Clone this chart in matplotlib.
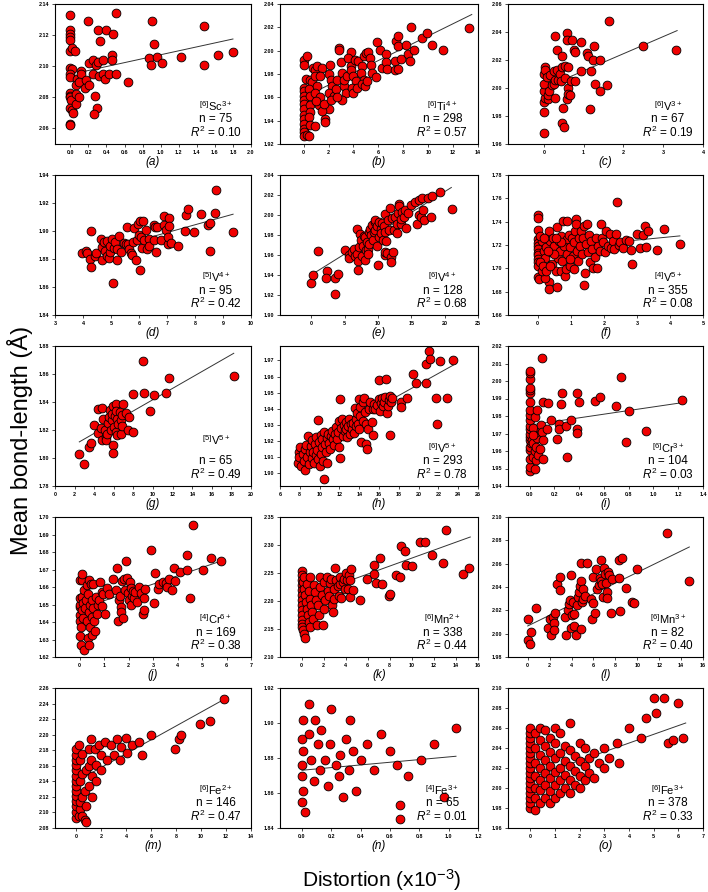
import numpy as np
import matplotlib
matplotlib.use("Agg")
import matplotlib.pyplot as plt

plt.rcParams['font.family'] = ['Liberation Sans', 'DejaVu Sans']
plt.rcParams['mathtext.fontset'] = 'custom'
plt.rcParams['mathtext.rm'] = 'Liberation Sans'
plt.rcParams['mathtext.it'] = 'Liberation Sans:italic'

# ---- data: (distortion x10^-3, mean bond length) ----
a_pts = [(0, 2.133), (0, 2.123), (0, 2.121), (0, 2.119), (0, 2.117), (0, 2.110), (0.02, 2.112), (0.05, 2.110),
         (0, 2.099), (0.02, 2.098), (0, 2.095), (0, 2.093), (0.07, 2.092), (0.06, 2.088), (0, 2.083), (0, 2.081),
         (0, 2.080), (0.01, 2.078), (0, 2.073), (0.02, 2.072), (0.03, 2.070), (0.06, 2.076), (0.06, 2.082),
         (0.1, 2.080), (0, 2.063), (0, 2.062), (0.12, 2.097), (0.12, 2.095), (0.1, 2.090), (0.17, 2.091),
         (0.16, 2.086), (0.21, 2.088), (0.2, 2.129), (0.21, 2.102), (0.25, 2.104), (0.28, 2.101), (0.31, 2.103),
         (0.31, 2.123), (0.33, 2.116), (0.25, 2.095), (0.32, 2.094), (0.36, 2.095), (0.38, 2.092), (0.27, 2.081),
         (0.3, 2.073), (0.26, 2.069), (0.36, 2.104), (0.39, 2.123), (0.43, 2.095), (0.47, 2.121), (0.46, 2.107),
         (0.46, 2.104), (0.5, 2.095), (0.5, 2.134), (0.64, 2.090), (0.87, 2.105), (0.89, 2.101), (0.9, 2.129),
         (0.93, 2.114), (0.96, 2.106), (1.01, 2.102), (1.23, 2.106), (1.48, 2.126), (1.48, 2.101), (1.63, 2.107),
         (1.8, 2.109)]
b_pts = [(0, 1.992), (0, 1.988), (0.3, 1.995), (0, 1.968), (0, 1.965), (0, 1.961), (0, 1.958), (0, 1.954),
         (0, 1.950), (0, 1.945), (0, 1.941), (0, 1.937), (0, 1.933), (0, 1.930), (0, 1.927), (0.3, 1.928),
         (0.4, 1.927), (0.2, 1.976), (0.5, 1.975), (0.7, 1.973), (0.4, 1.967), (0.5, 1.961), (0.5, 1.953),
         (0.5, 1.947), (0.4, 1.943), (0.5, 1.936), (0.9, 1.935), (0.75, 1.985), (0.95, 1.983), (1.1, 1.987),
         (1.5, 1.985), (0.95, 1.978), (1.3, 1.978), (1.1, 1.970), (0.95, 1.964), (1.35, 1.960), (1.2, 1.953),
         (1.0, 1.957), (1.7, 1.941), (1.7, 1.939), (2.0, 1.950), (1.5, 1.948), (1.6, 1.954), (2.1, 1.988),
         (2.0, 1.980), (2.2, 1.975), (2.3, 1.970), (2.0, 1.964), (2.4, 1.961), (2.2, 1.958), (2.6, 1.967),
         (2.7, 1.975), (2.8, 2.002), (2.8, 2.001), (3.0, 1.990), (3.1, 1.981), (3.2, 1.970), (3.4, 1.964),
         (3.1, 1.958), (2.7, 1.960), (3.2, 1.975), (3.5, 1.978), (3.8, 1.999), (3.6, 1.994), (3.8, 1.987),
         (3.8, 1.983), (4.0, 1.978), (4.2, 1.974), (3.9, 1.968), (4.0, 1.964), (4.3, 1.968), (4.1, 1.992),
         (4.4, 1.991), (4.7, 1.987), (4.6, 1.981), (4.85, 1.975), (4.7, 1.971), (4.9, 1.970), (5.1, 1.974),
         (4.85, 1.995), (5.0, 1.998), (5.2, 1.999), (5.3, 1.994), (5.4, 1.988), (5.5, 1.981), (5.8, 1.977),
         (5.9, 2.007), (6.1, 2.001), (6.3, 1.985), (6.6, 1.997), (6.6, 1.990), (6.7, 1.984), (7.3, 1.991),
         (7.4, 2.008), (7.6, 2.013), (7.6, 2.004), (7.3, 1.983), (7.55, 1.984), (7.8, 1.993), (8.2, 2.005),
         (8.4, 1.997), (8.5, 1.991), (8.6, 2.020), (8.9, 2.001), (9.5, 2.011), (9.9, 2.015), (10.3, 2.005),
         (11.2, 2.001), (13.3, 2.019)]
c_pts = [(0, 1.968), (0, 1.983), (0, 1.990), (0.02, 1.993), (0, 1.998), (0, 2.003), (0, 2.010), (0.03, 2.015),
         (0.03, 2.013), (0.07, 2.008), (0.1, 1.992), (0.1, 1.995), (0.12, 1.998), (0.15, 2.009), (0.2, 2.002),
         (0.25, 2.003), (0.28, 2.006), (0.27, 1.993), (0.25, 2.012), (0.33, 2.013), (0.29, 2.037), (0.33, 2.027),
         (0.35, 2.006), (0.4, 2.010), (0.42, 2.005), (0.46, 2.023), (0.46, 2.015), (0.48, 1.986), (0.46, 1.975),
         (0.5, 1.972), (0.52, 2.016), (0.52, 2.007), (0.58, 2.039), (0.57, 2.034), (0.58, 1.992), (0.6, 2.015),
         (0.62, 2.000), (0.62, 1.996), (0.65, 1.995), (0.68, 2.005), (0.71, 2.034), (0.75, 2.027), (0.78, 2.026),
         (0.79, 2.005), (0.93, 2.033), (0.93, 2.012), (1.08, 2.025), (1.11, 2.023), (1.17, 1.985), (1.19, 2.012),
         (1.23, 2.020), (1.25, 2.030), (1.29, 2.003), (1.4, 2.020), (1.42, 1.998), (1.58, 2.002), (1.64, 2.048),
         (2.48, 2.030), (3.33, 2.027)]
d_pts = [(3.96, 1.8845), (4.12, 1.886), (4.16, 1.884), (4.26, 1.880), (4.3, 1.874), (4.3, 1.900), (4.44, 1.882),
         (4.48, 1.884), (4.64, 1.8945), (4.68, 1.8885), (4.68, 1.879), (4.76, 1.892), (4.8, 1.886), (4.84, 1.8825),
         (4.86, 1.893), (4.92, 1.881), (4.96, 1.885), (4.98, 1.889), (5.04, 1.894), (5.08, 1.863), (5.1, 1.888),
         (5.16, 1.892), (5.2, 1.887), (5.22, 1.879), (5.28, 1.8965), (5.36, 1.885), (5.46, 1.8915), (5.52, 1.8905),
         (5.58, 1.903), (5.6, 1.8905), (5.64, 1.8875), (5.7, 1.8845), (5.76, 1.883), (5.8, 1.892), (5.82, 1.9025),
         (5.88, 1.879), (5.94, 1.8935), (5.98, 1.905), (6.0, 1.8975), (6.04, 1.8725), (6.04, 1.907), (6.08, 1.896),
         (6.12, 1.888), (6.16, 1.907), (6.18, 1.8935), (6.24, 1.9005), (6.3, 1.887), (6.36, 1.8945), (6.36, 1.889),
         (6.54, 1.8935), (6.54, 1.9045), (6.56, 1.903), (6.6, 1.885), (6.66, 1.903), (6.8, 1.8935), (6.88, 1.911),
         (6.9, 1.904), (6.96, 1.901), (7.02, 1.8905), (7.02, 1.8955), (7.08, 1.9095), (7.08, 1.9035), (7.16, 1.8915),
         (7.38, 1.889), (7.64, 1.900), (7.68, 1.9115), (7.76, 1.916), (7.96, 1.899), (8.22, 1.9125), (8.48, 1.9045),
         (8.52, 1.886), (8.52, 1.906), (8.7, 1.913), (8.76, 1.9295), (9.36, 1.899)]
e_pts = [(0, 1.932), (0.25, 1.9405), (0.95, 1.964), (2.35, 1.944), (2.26, 1.9365), (3.5, 1.937), (3.6, 1.9205),
         (4.0, 1.941), (5.1, 1.965), (5.6, 1.960), (5.7, 1.9575), (6.1, 1.963), (6.35, 1.9665), (6.5, 1.959),
         (6.85, 1.9865), (6.85, 1.9615), (7.0, 1.954), (7.0, 1.9455), (7.2, 1.9685), (7.35, 1.9815), (7.5, 1.9755),
         (7.6, 1.959), (7.7, 1.969), (7.85, 1.9795), (8.0, 1.955), (8.1, 1.978), (8.2, 1.965), (8.35, 1.973),
         (8.5, 1.9665), (8.5, 1.961), (8.6, 1.9835), (8.7, 1.9715), (8.85, 1.9865), (9.0, 1.980), (9.1, 1.990),
         (9.2, 1.975), (9.4, 1.983), (9.5, 1.993), (9.6, 1.9955), (9.6, 1.985), (9.8, 1.969), (9.9, 1.989),
         (10.0, 1.950), (10.1, 1.978), (10.2, 1.993), (10.4, 1.9865), (10.5, 1.982), (10.6, 1.992), (10.7, 1.975),
         (10.9, 1.9895), (11.0, 1.960), (11.0, 1.963), (11.1, 2.0015), (11.1, 1.983), (11.2, 1.974), (11.4, 1.962),
         (11.5, 1.995), (11.6, 1.9855), (11.8, 2.0075), (11.9, 1.9585), (12.0, 1.953), (12.1, 1.997), (12.2, 1.963),
         (12.4, 1.9855), (12.6, 1.9985), (12.8, 1.9915), (12.9, 1.982), (13.0, 2.002), (13.1, 2.0115), (13.2, 2.009),
         (13.4, 1.9915), (13.5, 1.9965), (13.6, 2.003), (13.9, 1.9985), (14.1, 2.0045), (14.2, 1.9875), (14.5, 2.002),
         (15.0, 2.0105), (15.6, 2.013), (15.9, 1.991), (16.1, 2.0155), (16.1, 2.0), (16.4, 1.998), (16.6, 2.0175),
         (16.8, 2.0045), (16.9, 1.9955), (17.5, 2.0175), (18.0, 1.9985), (18.1, 2.019), (19.25, 2.0235),
         (21.05, 2.0065)]
f_pts = [(0, 1.7455), (0, 1.7435), (0, 1.7327), (0, 1.725), (0, 1.722), (0, 1.719), (0, 1.7165), (0, 1.7135),
         (0, 1.711), (0, 1.708), (0, 1.705), (0, 1.702), (0, 1.6928), (0.03, 1.6908), (0.13, 1.7236), (0.18, 1.715),
         (0.23, 1.709), (0.26, 1.7186), (0.3, 1.7264), (0.33, 1.732), (0.36, 1.723), (0.33, 1.688), (0.33, 1.682),
         (0.23, 1.692), (0.4, 1.7136), (0.43, 1.7036), (0.47, 1.7258), (0.5, 1.7193), (0.54, 1.698), (0.57, 1.6836),
         (0.59, 1.7355), (0.6, 1.709), (0.64, 1.7236), (0.67, 1.715), (0.69, 1.698), (0.71, 1.7273), (0.74, 1.7065),
         (0.77, 1.7405), (0.79, 1.7193), (0.81, 1.6936), (0.84, 1.6993), (0.87, 1.7405), (0.87, 1.725),
         (0.89, 1.7122), (0.94, 1.7287), (0.97, 1.7022), (0.99, 1.7179), (1.04, 1.7264), (1.07, 1.7107),
         (1.09, 1.6993), (1.11, 1.7222), (1.14, 1.732), (1.17, 1.7427), (1.17, 1.7384), (1.19, 1.715),
         (1.21, 1.7065), (1.24, 1.7258), (1.27, 1.7193), (1.31, 1.732), (1.34, 1.7122), (1.37, 1.7264),
         (1.39, 1.7364), (1.41, 1.6859), (1.44, 1.6956), (1.47, 1.7207), (1.49, 1.738), (1.52, 1.7136),
         (1.55, 1.7287), (1.58, 1.705), (1.62, 1.7236), (1.65, 1.7165), (1.68, 1.7007), (1.72, 1.7097),
         (1.75, 1.7264), (1.8, 1.7007), (1.82, 1.7193), (1.88, 1.715), (1.92, 1.738), (1.95, 1.7258), (1.98, 1.7222),
         (2.02, 1.7136), (2.08, 1.732), (2.12, 1.7193), (2.18, 1.7293), (2.22, 1.7172), (2.28, 1.7236),
         (2.32, 1.7165), (2.38, 1.7293), (2.4, 1.7572), (2.45, 1.72), (2.5, 1.7222), (2.59, 1.7172), (2.66, 1.7241),
         (2.76, 1.723), (2.83, 1.7156), (2.86, 1.7036), (2.99, 1.7298), (3.08, 1.717), (3.18, 1.7287),
         (3.26, 1.7364), (3.29, 1.7179), (3.33, 1.732), (3.6, 1.7156), (3.82, 1.7333), (4.29, 1.7207),
         (0.08, 1.7273), (0.08, 1.705), (0.13, 1.698), (0.18, 1.7258), (0.16, 1.7022), (0.26, 1.698),
         (0.38, 1.7022), (0.48, 1.7122), (0.69, 1.7222), (0.54, 1.7258), (0.3, 1.715), (0.99, 1.7079)]
g_pts = [(2.48, 1.8032), (2.96, 1.7955), (3.51, 1.808), (3.72, 1.8108), (3.99, 1.8234), (4.34, 1.8349),
         (4.41, 1.818), (4.65, 1.8211), (4.75, 1.8354), (4.82, 1.8127), (4.89, 1.8277), (5.09, 1.8199),
         (5.16, 1.8151), (5.23, 1.8127), (5.34, 1.8175), (5.44, 1.8251), (5.51, 1.8294), (5.58, 1.8342),
         (5.68, 1.8199), (5.78, 1.827), (5.85, 1.8313), (5.92, 1.837), (5.92, 1.8091), (5.92, 1.8036),
         (6.02, 1.8222), (6.13, 1.8299), (6.2, 1.8385), (6.2, 1.8187), (6.27, 1.8337), (6.37, 1.8282),
         (6.37, 1.8163), (6.47, 1.8246), (6.61, 1.833), (6.71, 1.8275), (6.71, 1.8175), (6.82, 1.8227),
         (6.88, 1.8306), (6.95, 1.8389), (7.23, 1.8318), (7.4, 1.8199), (7.57, 1.8294), (7.99, 1.8456),
         (7.99, 1.8187), (9.12, 1.8466), (9.02, 1.8693), (9.71, 1.8337), (10.15, 1.8449), (11.36, 1.8466),
         (11.64, 1.8568), (18.24, 1.8588)]
h_pts = [(7.89, 1.9129), (7.82, 1.9066), (7.96, 1.9098), (8.06, 1.916), (8.16, 1.9046), (8.3, 1.9118),
         (8.4, 1.9077), (8.5, 1.9021), (8.5, 1.9149), (8.64, 1.9174), (8.74, 1.9098), (8.78, 1.9228),
         (8.92, 1.9056), (8.98, 1.9133), (9.09, 1.917), (9.19, 1.9091), (9.26, 1.9207), (9.33, 1.9129),
         (9.43, 1.9062), (9.53, 1.9181), (9.6, 1.9112), (9.67, 1.9222), (9.77, 1.9143), (9.88, 1.9331),
         (9.88, 1.9087), (9.95, 1.9191), (10.01, 1.9046), (10.12, 1.9236), (10.15, 1.9118), (10.22, 1.916),
         (10.29, 1.9211), (10.36, 1.9077), (10.43, 1.8963), (10.46, 1.9253), (10.56, 1.9181), (10.63, 1.9129),
         (10.7, 1.9216), (10.77, 1.9066), (10.84, 1.9243), (10.97, 1.9187), (11.04, 1.9149), (11.15, 1.9232),
         (11.25, 1.9263), (11.39, 1.9211), (11.49, 1.9174), (11.59, 1.9243), (11.66, 1.9284), (11.73, 1.9211),
         (11.83, 1.9257), (11.93, 1.9325), (12.0, 1.916), (12.07, 1.946), (12.07, 1.9091), (12.17, 1.9278),
         (12.28, 1.9336), (12.35, 1.9232), (12.42, 1.9298), (12.52, 1.9263), (12.62, 1.9319), (12.69, 1.9274),
         (12.76, 1.9222), (12.86, 1.929), (12.96, 1.9336), (13.1, 1.9243), (13.2, 1.9305), (13.31, 1.9274),
         (13.38, 1.9311), (13.44, 1.9249), (13.55, 1.9402), (13.65, 1.9294), (13.72, 1.9336), (13.79, 1.9373),
         (13.89, 1.9305), (13.99, 1.946), (13.99, 1.9274), (14.06, 1.9352), (14.13, 1.9408), (14.23, 1.9195),
         (14.34, 1.9439), (14.41, 1.9325), (14.51, 1.9464), (14.58, 1.9381), (14.68, 1.9181), (14.68, 1.9305),
         (14.82, 1.9153), (14.92, 1.9274), (15.02, 1.9398), (15.09, 1.9439), (15.26, 1.9319), (15.37, 1.9236),
         (15.43, 1.9398), (15.5, 1.9429), (15.6, 1.9398), (15.78, 1.9423), (15.95, 1.946), (16.05, 1.958),
         (16.12, 1.9388), (16.19, 1.9435), (16.29, 1.9464), (16.39, 1.9418), (16.53, 1.9443), (16.63, 1.9476),
         (16.74, 1.9584), (16.81, 1.9373), (16.87, 1.9418), (16.98, 1.9454), (17.08, 1.948), (17.15, 1.9236),
         (17.22, 1.9439), (17.32, 1.9464), (18.18, 1.9439), (18.25, 1.9408), (18.8, 1.9464), (19.48, 1.9615),
         (19.76, 1.9559), (20.75, 1.9563), (20.79, 1.9677), (21.0, 1.9756), (21.2, 1.9708), (21.78, 1.9464),
         (21.88, 1.9305), (22.12, 1.9698), (22.84, 1.9464), (23.5, 1.9704)]
i_pts = [(0, 1.9486), (0.005, 1.9509), (0, 1.9557), (0.005, 1.9605), (0, 1.9624), (0.01, 1.9643), (0, 1.9662),
         (0.005, 1.9681), (0, 1.97), (0.005, 1.9723), (0, 1.9742), (0, 1.9776), (0.005, 1.9805), (0, 1.9834),
         (0, 1.9881), (0, 1.9933), (0, 1.9948), (0, 1.9961), (0, 2.0009), (0, 2.0043), (0, 2.0057), (0.02, 1.9662),
         (0.03, 1.9643), (0.03, 1.9566), (0.04, 1.95), (0.05, 1.9547), (0.04, 1.9601), (0.05, 1.9624),
         (0.06, 1.9672), (0.05, 1.971), (0.03, 1.9734), (0.04, 1.9795), (0.06, 1.9837), (0.03, 1.969),
         (0.07, 1.9576), (0.08, 1.9614), (0.09, 1.9719), (0.09, 1.9748), (0.1, 2.0129), (0.1, 1.971),
         (0.11, 1.9881), (0.11, 1.9662), (0.11, 1.9557), (0.14, 1.9723), (0.15, 1.9876), (0.17, 1.9776),
         (0.22, 1.9666), (0.24, 1.9757), (0.24, 1.9723), (0.25, 1.9866), (0.26, 1.9933), (0.29, 1.9742),
         (0.3, 1.9566), (0.33, 1.9776), (0.38, 1.9723), (0.38, 1.9933), (0.38, 1.9704), (0.4, 1.9881),
         (0.53, 1.9885), (0.57, 1.991), (0.7, 1.9856), (0.74, 2.0021), (0.78, 1.9652), (0.8, 1.9828),
         (0.94, 1.9715), (1.23, 1.9891)]
j_pts = [(0, 1.6321), (0.03, 1.6488), (0, 1.6498), (0.03, 1.6536), (0, 1.664), (0.09, 1.664), (0.12, 1.6674),
         (0.07, 1.6266), (0.2, 1.6242), (0.03, 1.6441), (0, 1.6403), (0.07, 1.6374), (0.09, 1.6469),
         (0.12, 1.6545), (0.16, 1.6507), (0.16, 1.6422), (0.2, 1.6583), (0.23, 1.6479), (0.26, 1.6526),
         (0.3, 1.6403), (0.3, 1.6611), (0.34, 1.6558), (0.36, 1.6308), (0.39, 1.627), (0.39, 1.646), (0.39, 1.664),
         (0.43, 1.6498), (0.43, 1.6374), (0.47, 1.6615), (0.5, 1.6327), (0.5, 1.6431), (0.52, 1.6526),
         (0.56, 1.6615), (0.56, 1.6479), (0.61, 1.6403), (0.63, 1.6346), (0.66, 1.6545), (0.7, 1.6445),
         (0.74, 1.6498), (0.79, 1.6526), (0.83, 1.663), (0.9, 1.6573), (0.93, 1.6494), (0.97, 1.6558),
         (1.06, 1.6445), (1.14, 1.6592), (1.2, 1.6558), (1.37, 1.6645), (1.47, 1.6583), (1.55, 1.6706),
         (1.58, 1.6403), (1.6, 1.6526), (1.64, 1.6551), (1.68, 1.6483), (1.71, 1.646), (1.74, 1.6634),
         (1.78, 1.6422), (1.82, 1.6645), (1.87, 1.6583), (1.91, 1.6748), (1.95, 1.6649), (1.98, 1.6564),
         (2.01, 1.6526), (2.05, 1.6627), (2.09, 1.6592), (2.11, 1.6498), (2.14, 1.6551), (2.18, 1.6577),
         (2.22, 1.654), (2.27, 1.6573), (2.36, 1.6517), (2.41, 1.6602), (2.49, 1.6564), (2.58, 1.6445),
         (2.62, 1.6469), (2.62, 1.6536), (2.68, 1.6589), (2.92, 1.681), (3.03, 1.6507), (3.08, 1.6678),
         (3.22, 1.6589), (3.26, 1.6615), (3.39, 1.663), (3.52, 1.6621), (3.59, 1.6602), (3.66, 1.6645),
         (3.76, 1.6583), (3.86, 1.6706), (3.89, 1.6634), (4.1, 1.6683), (4.4, 1.6782), (4.4, 1.6697),
         (4.51, 1.654), (4.63, 1.6956), (5.05, 1.6697), (5.37, 1.6763), (5.77, 1.6748)]
k_pts = [(0, 2.253), (0, 2.2458), (0, 2.2369), (0, 2.228), (0, 2.219), (0, 2.2101), (0, 2.2012), (0, 2.1923),
         (0, 2.1833), (0, 2.1744), (0, 2.1655), (0, 2.1595), (0, 2.1536), (0.12, 2.1476), (0.24, 2.1417),
         (0.33, 2.1339), (0.12, 2.2339), (0.24, 2.222), (0.33, 2.2101), (0.42, 2.1982), (0.48, 2.1863),
         (0.55, 2.1744), (0.64, 2.1625), (0.73, 2.1536), (0.24, 2.2429), (0.48, 2.231), (0.64, 2.2173),
         (0.79, 2.2042), (0.85, 2.1923), (0.94, 2.1804), (1.03, 2.1685), (0.79, 2.2429), (1.09, 2.228),
         (1.24, 2.2161), (1.33, 2.2012), (1.45, 2.1923), (1.39, 2.1565), (1.55, 2.1744), (1.64, 2.2429),
         (1.7, 2.225), (1.85, 2.2113), (1.94, 2.1565), (2.0, 2.1863), (2.06, 2.2339), (2.15, 2.2012),
         (2.3, 2.2429), (2.36, 2.2173), (2.45, 2.2089), (2.61, 2.2327), (2.67, 2.2399), (2.76, 2.1923),
         (2.85, 2.1804), (2.91, 2.2042), (2.97, 2.222), (3.06, 2.2589), (3.15, 2.2369), (3.27, 2.2268),
         (3.36, 2.2089), (3.45, 2.2304), (3.52, 2.2429), (3.58, 2.2054), (3.76, 2.2345), (3.88, 2.2399),
         (3.97, 2.222), (4.06, 2.2506), (4.12, 2.2369), (4.18, 2.222), (4.27, 2.247), (4.36, 2.2369),
         (4.42, 2.2071), (4.48, 2.2565), (4.67, 2.219), (5.27, 2.2024), (5.94, 2.2387), (6.61, 2.2649),
         (6.61, 2.2488), (6.79, 2.2327), (7.09, 2.2768), (7.3, 2.231), (7.91, 2.2089), (8.06, 2.2131),
         (8.61, 2.247), (8.91, 2.2429), (9.03, 2.2982), (9.39, 2.2893), (9.45, 2.2637), (10.03, 2.2619),
         (10.73, 2.3054), (11.15, 2.3054), (11.82, 2.2815), (12.85, 2.2679), (13.06, 2.3262), (14.67, 2.2488),
         (15.18, 2.2589)]
l_pts = [(0.0, 1.9949), (0, 2.0123), (0.18, 1.9914), (0.31, 2.0014), (0.79, 2.022), (1.83, 2.0051),
         (2.02, 2.0129), (2.14, 1.9986), (2.32, 2.0143), (2.38, 2.0094), (2.38, 2.0029), (2.53, 2.018),
         (2.69, 2.0429), (2.93, 2.0486), (2.99, 2.0371), (3.36, 2.0143), (3.45, 1.9986), (3.69, 2.02),
         (3.76, 2.0257), (3.85, 2.0286), (3.91, 2.0506), (3.97, 2.0049), (4.06, 2.0157), (4.15, 2.0271),
         (4.21, 2.0171), (4.27, 2.0066), (4.37, 1.9986), (4.52, 2.0243), (4.58, 2.0314), (4.67, 2.0357),
         (4.76, 2.0409), (4.82, 2.0609), (4.82, 2.0043), (4.89, 2.0449), (4.98, 2.0271), (5.07, 2.0386),
         (5.07, 2.03), (5.19, 2.0323), (5.37, 2.0609), (5.8, 2.0294), (5.89, 2.0123), (5.98, 2.0266),
         (5.98, 2.0486), (6.11, 2.018), (6.2, 2.0551), (6.35, 2.038), (6.5, 2.042), (6.6, 2.0477),
         (6.66, 2.0449), (6.72, 2.0629), (6.81, 2.0429), (6.9, 2.0314), (6.96, 2.0563), (7.02, 2.0514),
         (7.11, 2.0437), (7.2, 2.0357), (7.27, 2.0306), (7.33, 2.0529), (7.42, 2.0506), (7.63, 2.018),
         (7.73, 2.0466), (8.34, 2.0477), (8.34, 2.0629), (8.43, 2.0191), (8.64, 2.0649), (8.95, 2.0391),
         (9.56, 2.0271), (9.71, 2.0266), (10.02, 2.0557), (12.7, 2.0866), (14.75, 2.0449)]
m_pts = [(0, 2.093), (0, 2.100), (0, 2.108), (0, 2.115), (0, 2.121), (0, 2.128), (0, 2.134), (0, 2.140),
         (0, 2.147), (0, 2.154), (0, 2.161), (0, 2.168), (0, 2.174), (0, 2.181), (0.2, 2.187), (0.2, 2.095),
         (0.3, 2.105), (0.3, 2.114), (0.3, 2.141), (0.3, 2.167), (0.5, 2.095), (0.5, 2.120), (0.5, 2.150),
         (0.5, 2.175), (0.7, 2.090), (0.7, 2.128), (0.8, 2.088), (0.8, 2.154), (0.8, 2.108), (1.0, 2.181),
         (1.0, 2.134), (1.0, 2.160), (1.2, 2.194), (1.2, 2.167), (1.3, 2.147), (1.3, 2.120), (1.5, 2.181),
         (1.6, 2.161), (1.6, 2.140), (1.8, 2.187), (2.0, 2.174), (2.0, 2.154), (2.3, 2.191), (2.5, 2.167),
         (2.8, 2.187), (3.0, 2.174), (3.3, 2.194), (3.5, 2.167), (3.6, 2.184), (4.0, 2.196), (4.1, 2.177),
         (4.5, 2.187), (5.0, 2.191), (5.3, 2.174), (6.0, 2.200), (7.9, 2.181), (8.2, 2.194), (8.4, 2.200),
         (9.9, 2.214), (10.7, 2.218), (11.8, 2.246)]
n_pts = [(0.05, 1.9106), (0.01, 1.902), (0, 1.891), (0.01, 1.884), (0, 1.876), (0, 1.870), (0.01, 1.861),
         (0, 1.855), (0.02, 1.849), (0.05, 1.894), (0.06, 1.879), (0.08, 1.867), (0.09, 1.902), (0.11, 1.888),
         (0.12, 1.873), (0.13, 1.896), (0.16, 1.879), (0.18, 1.864), (0.19, 1.888), (0.2, 1.908), (0.23, 1.876),
         (0.25, 1.870), (0.26, 1.882), (0.28, 1.858), (0.3, 1.891), (0.32, 1.873), (0.33, 1.902), (0.35, 1.884),
         (0.37, 1.861), (0.4, 1.879), (0.44, 1.888), (0.49, 1.873), (0.54, 1.894), (0.6, 1.884), (0.65, 1.876),
         (0.72, 1.870), (0.81, 1.879), (0.9, 1.888), (0.97, 1.858), (0.67, 1.853), (0.67, 1.845), (1.05, 1.897)]
o_pts = [(0, 1.980), (0, 1.985), (0, 1.990), (0, 1.995), (0, 2.000), (0, 2.005), (0, 2.010), (0, 2.015),
         (0, 2.020), (0, 2.025), (0, 2.030), (0, 2.035), (0, 2.040), (0, 2.045), (0, 2.050), (0, 2.055),
         (0, 2.060), (0.2, 1.978), (0.2, 1.990), (0.2, 2.000), (0.2, 2.012), (0.2, 2.025), (0.2, 2.040),
         (0.2, 2.055), (0.4, 1.985), (0.4, 1.998), (0.4, 2.008), (0.4, 2.020), (0.4, 2.033), (0.4, 2.048),
         (0.4, 2.060), (0.6, 1.990), (0.6, 2.003), (0.6, 2.015), (0.6, 2.028), (0.6, 2.042), (0.6, 2.058),
         (0.8, 1.985), (0.8, 1.997), (0.8, 2.010), (0.8, 2.022), (0.8, 2.036), (0.8, 2.050), (1.0, 1.990),
         (1.0, 2.003), (1.0, 2.016), (1.0, 2.030), (1.0, 2.045), (1.0, 2.060), (1.2, 1.995), (1.2, 2.008),
         (1.2, 2.020), (1.2, 2.035), (1.2, 2.055), (1.4, 2.000), (1.4, 2.013), (1.4, 2.027), (1.4, 2.042),
         (1.6, 1.995), (1.6, 2.008), (1.6, 2.022), (1.6, 2.038), (1.6, 2.065), (1.8, 2.003), (1.8, 2.017),
         (1.8, 2.032), (2.0, 2.000), (2.0, 2.012), (2.0, 2.027), (2.0, 2.045), (2.2, 2.008), (2.2, 2.022),
         (2.2, 2.040), (2.4, 2.015), (2.4, 2.030), (2.6, 2.010), (2.6, 2.035), (2.8, 2.025), (3.0, 2.020),
         (3.0, 2.040), (3.2, 2.030), (3.5, 2.045), (3.6, 2.025), (4.0, 2.060), (4.5, 2.050), (4.7, 2.070),
         (5.0, 2.090), (5.1, 2.075), (5.4, 2.090), (5.6, 2.045), (5.8, 2.048), (6.0, 2.085), (6.2, 2.050)]

# regression line ends (x0, x1, y0, y1)
fits = {
    'a': (0.1, 1.8, 2.096, 2.1175), 'b': (0, 13.5, 1.960, 2.031), 'c': (0, 3.35, 2.000, 2.041),
    'd': (3.96, 9.36, 1.882, 1.912), 'e': (0.2, 21.0, 1.941, 2.0275), 'f': (0, 4.3, 1.716, 1.7278),
    'g': (2.48, 18.24, 1.8115, 1.8748), 'h': (7.8, 23.5, 1.9133, 1.9671), 'i': (0, 1.23, 1.9748, 1.9876),
    'j': (0, 5.77, 1.6474, 1.6748), 'k': (0, 15.3, 2.2055, 2.3143), 'l': (0, 14.75, 2.0066, 2.0743),
    'm': (0, 11.8, 2.14, 2.245), 'n': (0, 1.05, 1.873, 1.881), 'o': (0, 6.3, 2.01, 2.065),
}
ions = {'a': ('6', 'Sc', '3+'), 'b': ('6', 'Ti', '4+'), 'c': ('6', 'V', '3+'), 'd': ('5', 'V', '4+'),
        'e': ('6', 'V', '4+'), 'f': ('4', 'V', '5+'), 'g': ('5', 'V', '5+'), 'h': ('6', 'V', '5+'),
        'i': ('6', 'Cr', '3+'), 'j': ('4', 'Cr', '6+'), 'k': ('6', 'Mn', '2+'), 'l': ('6', 'Mn', '3+'),
        'm': ('6', 'Fe', '2+'), 'n': ('4', 'Fe', '3+'), 'o': ('6', 'Fe', '3+')}
n_counts = {'a': 75, 'b': 298, 'c': 67, 'd': 95, 'e': 128, 'f': 355, 'g': 65, 'h': 293, 'i': 104,
            'j': 169, 'k': 338, 'l': 82, 'm': 146, 'n': 65, 'o': 378}
r2_vals = {'a': '0.10', 'b': '0.57', 'c': '0.19', 'd': '0.42', 'e': '0.68', 'f': '0.08', 'g': '0.49',
           'h': '0.78', 'i': '0.03', 'j': '0.38', 'k': '0.44', 'l': '0.40', 'm': '0.47', 'n': '0.01', 'o': '0.33'}
pts = {'a': a_pts, 'b': b_pts, 'c': c_pts, 'd': d_pts, 'e': e_pts, 'f': f_pts, 'g': g_pts, 'h': h_pts,
       'i': i_pts, 'j': j_pts, 'k': k_pts, 'l': l_pts, 'm': m_pts, 'n': n_pts, 'o': o_pts}

# axis setup: xlim, xticks, ylim, yticks, x format
axis_cfg = {
    'a': ((-0.17, 2.0), np.arange(0, 2.01, 0.2), (2.05, 2.14), np.arange(2.06, 2.141, 0.02), '%.1f'),
    'b': ((-1.9, 14), np.arange(0, 15, 2), (1.92, 2.04), np.arange(1.92, 2.041, 0.02), '%d'),
    'c': ((-0.9, 4), np.arange(0, 5, 1), (1.96, 2.06), np.arange(1.96, 2.061, 0.02), '%d'),
    'd': ((3, 10), np.arange(3, 11, 1), (1.84, 1.94), np.arange(1.84, 1.941, 0.02), '%d'),
    'e': ((-4.7, 25), np.arange(0, 26, 5), (1.90, 2.04), np.arange(1.90, 2.041, 0.02), '%d'),
    'f': ((-0.9, 5), np.arange(0, 6, 1), (1.66, 1.78), np.arange(1.66, 1.781, 0.02), '%d'),
    'g': ((0, 20), np.arange(0, 21, 2), (1.78, 1.88), np.arange(1.78, 1.881, 0.02), '%d'),
    'h': ((6, 26), np.arange(6, 27, 2), (1.892, 1.979), np.arange(1.90, 1.971, 0.01), '%d'),
    'i': ((-0.175, 1.4), np.arange(0, 1.41, 0.2), (1.94, 2.02), np.arange(1.94, 2.021, 0.01), '%.1f'),
    'j': ((-1, 7), np.arange(0, 8, 1), (1.62, 1.70), np.arange(1.62, 1.701, 0.01), '%d'),
    'k': ((-1.95, 16), np.arange(0, 17, 2), (2.10, 2.35), np.arange(2.10, 2.351, 0.05), '%d'),
    'l': ((-1.8, 16), np.arange(0, 17, 2), (1.98, 2.10), np.arange(1.98, 2.101, 0.02), '%d'),
    'm': ((-1.7, 14), np.arange(0, 15, 2), (2.08, 2.26), np.arange(2.08, 2.261, 0.02), '%d'),
    'n': ((-0.15, 1.2), np.arange(0, 1.21, 0.2), (1.84, 1.92), np.arange(1.84, 1.921, 0.02), '%.1f'),
    'o': ((-0.9, 7), np.arange(0, 8, 1), (1.96, 2.10), np.arange(1.96, 2.101, 0.02), '%d'),
}

W, H = 708, 892
fig = plt.figure(figsize=(W / 100, H / 100), dpi=100)

col_left = [55, 280, 508]
col_right = [251, 478, 703]
row_top = [4, 175, 346, 517, 688]
ax_h = 140

letters = 'abcdefghijklmno'
for idx, key in enumerate(letters):
    r, c = divmod(idx, 3)
    l, rt, t = col_left[c], col_right[c], row_top[r]
    ax = fig.add_axes([l / W, 1 - (t + ax_h) / H, (rt - l) / W, ax_h / H])
    xs = [p[0] for p in pts[key]]
    ys = [p[1] for p in pts[key]]
    x0, x1, y0, y1 = fits[key]
    ax.plot([x0, x1], [y0, y1], color='#333333', lw=0.7, zorder=2)
    ax.scatter(xs, ys, s=40, c='#f00000', edgecolors='black', linewidths=0.6, zorder=3)

    xlim, xt, ylim, yt, xfmt = axis_cfg[key]
    ax.set_xlim(*xlim)
    ax.set_ylim(*ylim)
    ax.set_xticks(xt)
    ax.set_yticks(yt)
    ax.set_xticklabels([xfmt % v for v in xt])
    ax.set_yticklabels(['%.2f' % v for v in yt])
    ax.tick_params(labelsize=3.9, length=2, width=0.5, pad=2)
    for lab in ax.get_xticklabels() + ax.get_yticklabels():
        lab.set_fontweight('bold')
    for sp in ax.spines.values():
        sp.set_linewidth(0.8)

    cn, el, ch = ions[key]
    ty = 0.33 if key == 'g' else 0.27
    ax.text(0.82, ty, r'$^{[%s]}$%s$^{%s}$' % (cn, el, ch), transform=ax.transAxes,
            ha='center', va='center', fontsize=8)
    ax.text(0.82, 0.175, 'n = %d' % n_counts[key], transform=ax.transAxes,
            ha='center', va='center', fontsize=8.5)
    ax.text(0.82, 0.08, r'$R^2$ = %s' % r2_vals[key], transform=ax.transAxes,
            ha='center', va='center', fontsize=8.5)
    ax.text(0.5, -0.13, '(%s)' % key, transform=ax.transAxes, ha='center', va='center',
            fontsize=8.5, fontstyle='italic')

fig.text(20 / W, 1 - 440 / H, 'Mean bond-length (\u00c5)', rotation=90, ha='center', va='center', fontsize=17)
fig.text(382 / W, 1 - 880 / H, 'Distortion (x10$^{-3}$)', ha='center', va='center', fontsize=15)

fig.savefig('out.png', dpi=100)
